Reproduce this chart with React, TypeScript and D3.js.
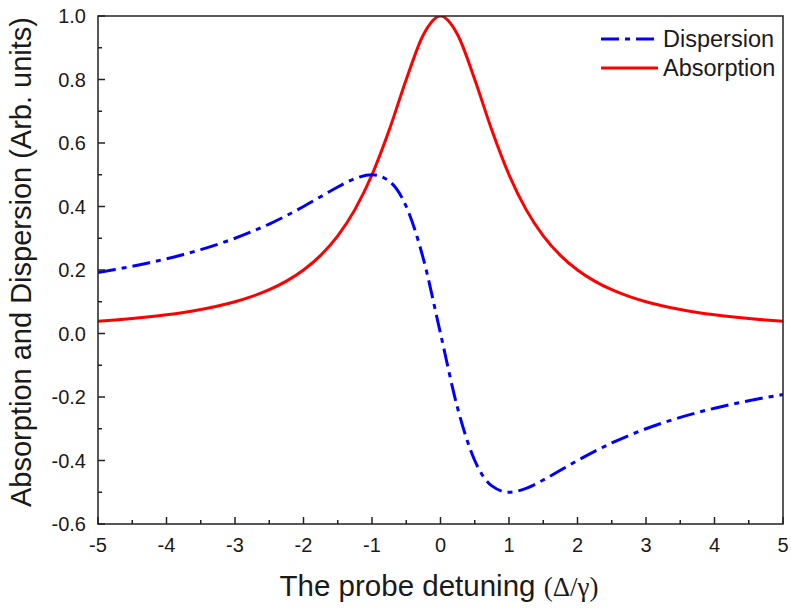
import React from "react";
import * as d3 from "d3";

const detuning = [-5, -4.75, -4.5, -4.25, -4, -3.75, -3.5, -3.25, -3, -2.75, -2.5, -2.25, -2, -1.75, -1.5, -1.25, -1, -0.75, -0.5, -0.25, 0,
  0.25, 0.5, 0.75, 1, 1.25, 1.5, 1.75, 2, 2.25, 2.5, 2.75, 3, 3.25, 3.5, 3.75, 4, 4.25, 4.5, 4.75, 5];
const absorption = [0.0385, 0.0424, 0.0471, 0.0525, 0.0588, 0.0664, 0.0755, 0.0865, 0.1, 0.1168, 0.1379, 0.1649, 0.2, 0.2462, 0.3077, 0.3902, 0.5, 0.64, 0.8, 0.9412, 1.0,
  0.9412, 0.8, 0.64, 0.5, 0.3902, 0.3077, 0.2462, 0.2, 0.1649, 0.1379, 0.1168, 0.1, 0.0865, 0.0755, 0.0664, 0.0588, 0.0525, 0.0471, 0.0424, 0.0385];
const dispersion = [0.1923, 0.2016, 0.2118, 0.223, 0.2353, 0.249, 0.2642, 0.2811, 0.3, 0.3212, 0.3448, 0.3711, 0.4, 0.4308, 0.4615, 0.4878, 0.5, 0.48, 0.4, 0.2353, 0,
  -0.2353, -0.4, -0.48, -0.5, -0.4878, -0.4615, -0.4308, -0.4, -0.3711, -0.3448, -0.3212, -0.3, -0.2811, -0.2642, -0.249, -0.2353, -0.223, -0.2118, -0.2016, -0.1923];
const xTicks = [-5, -4, -3, -2, -1, 0, 1, 2, 3, 4, 5];
const xMinor = [-4.5, -3.5, -2.5, -1.5, -0.5, 0.5, 1.5, 2.5, 3.5, 4.5];
const yTicks = [-0.6, -0.4, -0.2, 0.0, 0.2, 0.4, 0.6, 0.8, 1.0];
const yMinor = [-0.5, -0.3, -0.1, 0.1, 0.3, 0.5, 0.7, 0.9];

const L = 98, R = 783, T = 16, B = 524;
const font = "Liberation Sans, Arial, sans-serif";
const textColor = "#1a1a1a";
const dash = "18 6 5 6";

export default function App() {
  const x = d3.scaleLinear().domain([-5, 5]).range([L, R]);
  const y = d3.scaleLinear().domain([-0.6, 1.0]).range([B, T]);
  const line = (vals: number[]) =>
    d3.line<number>().x((_, i) => x(detuning[i])).y((v) => y(v)).curve(d3.curveMonotoneX)(vals) || "";

  return (
    <svg width={791} height={610} style={{ position: "absolute", left: 0, top: 0, background: "#fff" }}>
      <defs>
        <clipPath id="plot"><rect x={L} y={T} width={R - L} height={B - T} /></clipPath>
      </defs>
      <g clipPath="url(#plot)">
        <path d={line(absorption)} fill="none" stroke="#ff0000" strokeWidth={3} />
        <path d={line(dispersion)} fill="none" stroke="#0000ff" strokeWidth={3} strokeDasharray={dash} />
      </g>
      <rect x={L} y={T} width={R - L} height={B - T} fill="none" stroke="#222" strokeWidth={1.5} />
      {xTicks.map((t) => (
        <g key={"xt" + t}>
          <line x1={x(t)} x2={x(t)} y1={B} y2={B - 7} stroke="#222" strokeWidth={1.5} />
          <text x={x(t)} y={552} textAnchor="middle" fontFamily={font} fontSize={20} fill={textColor}>{t}</text>
        </g>
      ))}
      {xMinor.map((t) => (
        <line key={"xm" + t} x1={x(t)} x2={x(t)} y1={B} y2={B - 4} stroke="#222" strokeWidth={1.5} />
      ))}
      {yTicks.map((t) => (
        <g key={"yt" + t}>
          <line x1={L} x2={L + 7} y1={y(t)} y2={y(t)} stroke="#222" strokeWidth={1.5} />
          <text x={86} y={y(t) + 7} textAnchor="end" fontFamily={font} fontSize={20} fill={textColor}>{t.toFixed(1)}</text>
        </g>
      ))}
      {yMinor.map((t) => (
        <line key={"ym" + t} x1={L} x2={L + 4} y1={y(t)} y2={y(t)} stroke="#222" strokeWidth={1.5} />
      ))}
      <text transform={`translate(31,262) rotate(-90)`} textAnchor="middle" fontFamily={font} fontSize={29} fill={textColor}>
        Absorption and Dispersion (Arb. units)
      </text>
      <text x={439} y={596} textAnchor="middle" fontFamily={font} fontSize={29.5} fill={textColor}>
        The probe detuning <tspan fontFamily="Liberation Serif, Times New Roman, serif" fontSize={27}>(Δ/γ)</tspan>
      </text>
      <g>
        <line x1={601} x2={658} y1={39} y2={39} stroke="#0000ff" strokeWidth={3} strokeDasharray={dash} />
        <text x={663} y={47} fontFamily={font} fontSize={23.5} fill={textColor}>Dispersion</text>
        <line x1={601} x2={658} y1={68} y2={68} stroke="#ff0000" strokeWidth={3} />
        <text x={663} y={76} fontFamily={font} fontSize={23.5} fill={textColor}>Absorption</text>
      </g>
    </svg>
  );
}
